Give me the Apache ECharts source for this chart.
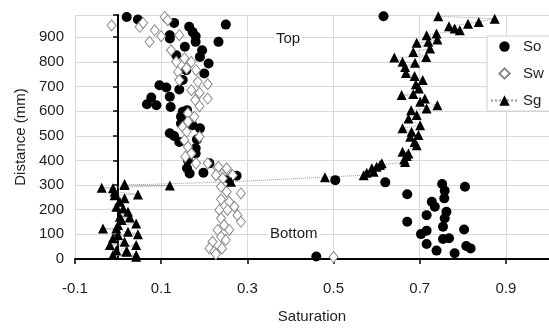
<!DOCTYPE html>
<html>
<head>
<meta charset="utf-8">
<script src="https://cdn.jsdelivr.net/npm/echarts@6/dist/echarts.min.js"></script>
<style>html,body{margin:0;padding:0;background:#fff;}#c{width:549px;height:333px;}</style>
</head>
<body>
<div id="c"></div>
<script>
const xTickLabels = ['-0.1','0.1','0.3','0.5','0.7','0.9'];
const yTickLabels = ['0','100','200','300','400','500','600','700','800','900'];
const seriesNames = ['So','Sw','Sg'];

const soX = [0.02,0.046,0.13,0.25,0.165,0.173,0.18,0.12,0.233,0.18,0.12,0.155,0.195,0.19,0.135,0.21,0.2,0.158,0.15,0.096,0.112,0.142,0.12,0.077,0.067,0.089,0.122,0.15,0.146,0.16,0.173,0.19,0.146,0.12,0.13,0.142,0.183,0.18,0.18,0.162,0.212,0.16,0.166,0.198,0.275,0.258,
  0.616,0.504,0.62,0.671,0.752,0.805,0.758,0.757,0.728,0.735,0.762,0.716,0.758,0.671,0.754,0.716,0.703,0.803,0.754,0.768,0.716,0.808,0.818,0.739,0.781,0.46];
const soY = [982,972,958,951,942,921,904,908,881,881,895,861,847,820,827,793,753,766,726,705,696,688,658,655,628,624,617,597,577,604,543,530,550,510,499,475,485,449,428,401,388,368,347,350,338,325,
  985,320,311,263,304,293,277,246,232,212,192,178,165,151,131,115,101,120,81,84,61,53,43,34,23,10];

const swX = [-0.015,0.05,0.058,0.108,0.115,0.085,0.1,0.073,0.142,0.123,0.135,0.154,0.17,0.181,0.139,0.159,0.142,0.185,0.208,0.17,0.189,0.208,0.179,0.189,0.162,0.177,0.15,0.162,0.159,0.189,0.154,0.162,0.17,0.156,0.181,0.208,0.231,0.231,0.253,0.266,
  0.233,0.252,0.227,0.243,0.239,0.252,0.285,0.239,0.258,0.27,0.235,0.254,0.277,0.239,0.285,0.246,0.231,0.258,0.239,0.25,0.219,0.212,0.241,0.223,0.227,0.5];
const swY = [948,942,958,982,969,928,904,881,908,847,800,814,800,766,759,773,726,719,709,685,674,651,645,620,591,577,536,557,516,496,482,455,428,415,388,388,368,347,361,340,
  374,368,340,327,293,273,266,242,232,212,199,199,178,165,151,138,118,118,90,77,70,43,43,30,20,8];

const sgX = [-0.038,-0.012,0.015,0.046,-0.008,0.004,0.015,-0.004,0.012,0.023,0.004,0.027,0.042,-0.035,0.0,0.023,0.046,-0.012,0.015,0.042,-0.019,-0.004,0.019,-0.012,0.042,0.0,0.008,-0.004,-0.008,0.015,0.042,0.021,
  0.12,0.262,0.48,
  0.743,0.874,0.837,0.812,0.793,0.781,0.768,0.739,0.741,0.716,0.72,0.693,0.724,0.685,0.715,0.641,0.66,0.689,0.666,0.668,0.688,0.707,0.691,0.698,0.658,0.685,0.712,0.701,0.741,0.716,0.68,0.674,0.693,0.701,0.66,0.681,0.697,0.678,0.688,0.693,0.66,0.674,0.664,0.612,0.6,0.589,0.577,0.57,0.67,0.593,0.608,0.666];
const sgY = [289,287,300,262,259,232,246,212,205,192,171,168,144,124,138,111,100,84,70,57,57,36,30,16,16,97,158,124,273,304,9,30,
  298,313,332,
  985,975,962,955,928,935,944,915,891,908,881,877,854,840,820,818,800,796,779,755,742,726,709,692,665,669,651,638,624,611,604,570,584,543,530,516,503,496,475,462,435,428,404,388,374,368,350,340,418,354,381,394];

const zip = (xs, ys) => xs.map((x, i) => [x, ys[i]]);
const soData = zip(soX, soY);
const swData = zip(swX, swY);
const sgData = zip(sgX, sgY).sort((a, b) => a[1] - b[1]);

const FONT = 'Liberation Sans, Arial, sans-serif';
const TXT = '#1e1e1e';
const GRID = '#d9d9d9';

const chart = echarts.init(document.getElementById('c'), null, {renderer: 'canvas'});
chart.setOption({
  animation: false,
  grid: {left: 75, top: 15, width: 476, bottom: 74, containLabel: false},
  xAxis: {
    type: 'value', min: -0.1, max: 1.0, interval: 0.2,
    name: 'Saturation', nameLocation: 'middle', nameGap: 50,
    nameTextStyle: {fontSize: 15, color: TXT, fontFamily: FONT},
    axisLine: {onZero: false, lineStyle: {color: '#000', width: 2}},
    axisTick: {show: true, length: 5, lineStyle: {color: '#000', width: 1.5}},
    axisLabel: {
      margin: 22, fontSize: 15, color: TXT, fontFamily: FONT, showMaxLabel: false,
      formatter: function (v) {
        const s = (Math.round(v * 10) / 10).toFixed(1);
        return xTickLabels.indexOf(s) >= 0 ? s : '';
      }
    },
    splitLine: {show: true, lineStyle: {color: GRID, width: 1}}
  },
  yAxis: [{
    type: 'value', min: 0, max: 990, interval: 100, position: 'left',
    name: 'Distance (mm)', nameLocation: 'middle', nameGap: 46, nameRotate: 90,
    nameTextStyle: {fontSize: 15, color: TXT, fontFamily: FONT},
    axisLine: {show: false, onZero: false},
    axisTick: {show: false},
    axisLabel: {
      margin: 11, fontSize: 15, color: TXT, fontFamily: FONT, showMaxLabel: false,
      formatter: function (v) {
        const s = String(Math.round(v));
        return yTickLabels.indexOf(s) >= 0 ? s : '';
      }
    },
    splitLine: {show: true, lineStyle: {color: GRID, width: 1}}
  }, {
    type: 'value', min: 0, max: 990, interval: 100, position: 'left',
    axisLine: {show: true, onZero: true, lineStyle: {color: '#000', width: 2}},
    axisTick: {show: true, length: 5, lineStyle: {color: '#000', width: 1.5}},
    axisLabel: {show: false},
    splitLine: {show: false}
  }],
  legend: {
    orient: 'vertical', left: 487, top: 36,
    padding: [2, 30, 2, 3],
    backgroundColor: '#fff', borderColor: '#cfcfcf', borderWidth: 1, borderRadius: 0,
    itemWidth: 27, itemHeight: 13, itemGap: 10,
    textStyle: {fontSize: 15, color: TXT, fontFamily: FONT, lineHeight: 17},
    data: seriesNames
  },
  graphic: [
    {type: 'text', left: 274, top: 31, z: 10, style: {text: 'Top', fontSize: 15, fill: TXT, fontFamily: FONT, backgroundColor: '#fff', padding: [0, 2]}},
    {type: 'text', left: 268, top: 226, z: 10, style: {text: 'Bottom', fontSize: 15, fill: TXT, fontFamily: FONT, backgroundColor: '#fff', padding: [0, 2]}}
  ],
  series: [
    {
      name: seriesNames[0], type: 'line', data: soData, clip: false,
      symbol: 'circle', symbolSize: 10, showSymbol: true,
      itemStyle: {color: '#000'}, lineStyle: {width: 0, opacity: 0},
      emphasis: {disabled: true}
    },
    {
      name: seriesNames[1], type: 'line', data: swData, clip: false,
      symbol: 'diamond', symbolSize: [9, 11], showSymbol: true,
      itemStyle: {color: '#fff', borderColor: '#8a8a8a', borderWidth: 1},
      lineStyle: {width: 0, opacity: 0},
      emphasis: {disabled: true}
    },
    {
      name: seriesNames[2], type: 'line', data: sgData, clip: false,
      symbol: 'triangle', symbolSize: 10, showSymbol: true,
      itemStyle: {color: '#000'},
      lineStyle: {width: 1, color: '#9a9a9a', type: 'dotted'},
      emphasis: {disabled: true}
    }
  ]
});
</script>
</body>
</html>
